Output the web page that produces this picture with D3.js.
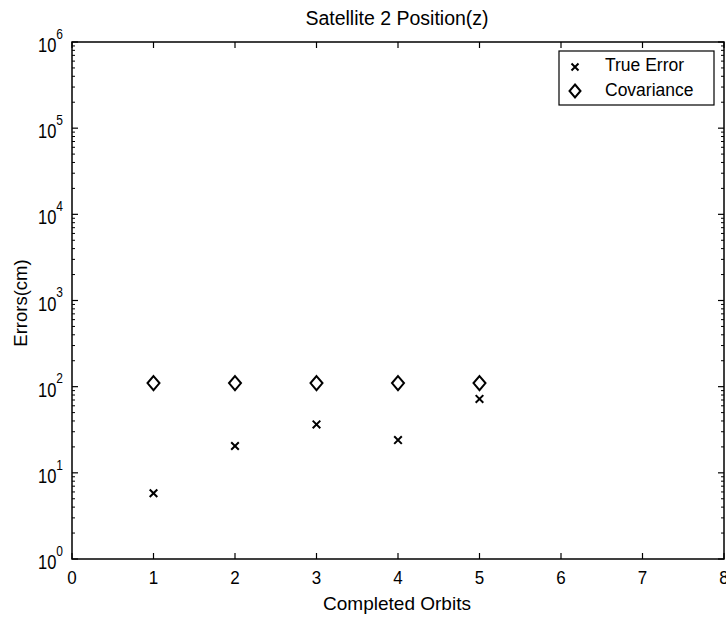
<!DOCTYPE html>
<html>
<head>
<meta charset="utf-8">
<script src="https://cdn.jsdelivr.net/npm/d3@7"></script>
<style>
  body { margin: 0; background: #fff; }
  text { font-family: "Liberation Sans", Arial, sans-serif; fill: #000; }
</style>
</head>
<body>
<svg id="chart" width="726" height="618"></svg>
<script>
// orbit numbers and the two error series (cm)
var orbits = [1, 2, 3, 4, 5];
var trueError = [5.8, 20.5, 36.5, 24, 72];
var covariance = [110, 110, 110, 110, 110];
var xTicks = [0, 1, 2, 3, 4, 5, 6, 7, 8];
var yDecades = [0, 1, 2, 3, 4, 5, 6];

var svg = d3.select("#chart");
var pLeft = 72, pRight = 724, pTop = 42, pBottom = 559;

var x = d3.scaleLinear().domain([0, 8]).range([pLeft, pRight]);
var y = d3.scaleLog().domain([1, 1e6]).range([pBottom, pTop]);

// minor ticks 2..9 in every decade
var minor = [];
yDecades.slice(0, -1).forEach(function(p) {
    for (var k = 2; k <= 9; k++) minor.push(k * Math.pow(10, p));
});

var g = svg.append("g");

// frame
g.append("rect")
    .attr("x", pLeft).attr("y", pTop)
    .attr("width", pRight - pLeft).attr("height", pBottom - pTop)
    .style("fill", "none").style("stroke", "#000").style("stroke-width", 1.5);

// x ticks bottom and top
xTicks.forEach(function(t) {
    g.append("line").attr("x1", x(t)).attr("x2", x(t)).attr("y1", pBottom).attr("y2", pBottom - 6)
        .style("stroke", "#000").style("stroke-width", 1.2);
    g.append("line").attr("x1", x(t)).attr("x2", x(t)).attr("y1", pTop).attr("y2", pTop + 6)
        .style("stroke", "#000").style("stroke-width", 1.2);
    g.append("text")
        .attr("transform", "translate(" + x(t) + "," + (pBottom + 25) + ") scale(1,1.12)")
        .attr("text-anchor", "middle").style("font-size", "17px").text(t);
});

// y major ticks with 10^n labels
yDecades.forEach(function(p) {
    var v = Math.pow(10, p);
    g.append("line").attr("x1", pLeft).attr("x2", pLeft + 6).attr("y1", y(v)).attr("y2", y(v))
        .style("stroke", "#000").style("stroke-width", 1.2);
    g.append("line").attr("x1", pRight).attr("x2", pRight - 6).attr("y1", y(v)).attr("y2", y(v))
        .style("stroke", "#000").style("stroke-width", 1.2);
    var lab = g.append("text")
        .attr("transform", "translate(" + (pLeft - 9) + "," + (y(v) + 10) + ") scale(1,1.2)")
        .attr("text-anchor", "end").style("font-size", "16.5px");
    lab.append("tspan").text("10");
    lab.append("tspan").attr("dy", -11).style("font-size", "12px").text(p);
});

minor.forEach(function(v) {
    g.append("line").attr("x1", pLeft).attr("x2", pLeft + 3).attr("y1", y(v)).attr("y2", y(v))
        .style("stroke", "#000").style("stroke-width", 1);
    g.append("line").attr("x1", pRight).attr("x2", pRight - 3).attr("y1", y(v)).attr("y2", y(v))
        .style("stroke", "#000").style("stroke-width", 1);
});

// title and axis labels
svg.append("text").attr("x", 397).attr("y", 25).attr("text-anchor", "middle")
    .style("font-size", "19.5px").text("Satellite 2 Position(z)");
svg.append("text").attr("x", 397).attr("y", 610).attr("text-anchor", "middle")
    .style("font-size", "19px").text("Completed Orbits");
svg.append("text").attr("transform", "translate(27,303) rotate(-90)")
    .attr("text-anchor", "middle").style("font-size", "18.5px").text("Errors(cm)");

// marker shapes
function cross(cx, cy, s) {
    return "M" + (cx - s) + "," + (cy - s) + "L" + (cx + s) + "," + (cy + s) +
           "M" + (cx - s) + "," + (cy + s) + "L" + (cx + s) + "," + (cy - s);
}
function diamond(cx, cy, w, h) {
    return "M" + cx + "," + (cy - h) + "L" + (cx + w) + "," + cy + "L" + cx + "," + (cy + h) +
           "L" + (cx - w) + "," + cy + "Z";
}

g.selectAll("path.cov").data(orbits).enter().append("path").attr("class", "cov")
    .attr("d", function(d, i) { return diamond(x(d), y(covariance[i]), 6, 7); })
    .style("fill", "none").style("stroke", "#000").style("stroke-width", 2);

g.selectAll("path.err").data(orbits).enter().append("path").attr("class", "err")
    .attr("d", function(d, i) { return cross(x(d), y(trueError[i]), 3.8); })
    .style("fill", "none").style("stroke", "#000").style("stroke-width", 2);

// legend
var lg = svg.append("g");
lg.append("rect").attr("x", 559).attr("y", 51).attr("width", 155).attr("height", 54)
    .style("fill", "#fff").style("stroke", "#000").style("stroke-width", 1.2);
lg.append("path").attr("d", cross(575, 67, 3.5))
    .style("fill", "none").style("stroke", "#000").style("stroke-width", 2);
lg.append("path").attr("d", diamond(575, 91, 5.5, 6.5))
    .style("fill", "none").style("stroke", "#000").style("stroke-width", 2);
lg.append("text").attr("x", 605).attr("y", 71).style("font-size", "17.5px").text("True Error");
lg.append("text").attr("x", 605).attr("y", 96).style("font-size", "17.5px").text("Covariance");
</script>
</body>
</html>
